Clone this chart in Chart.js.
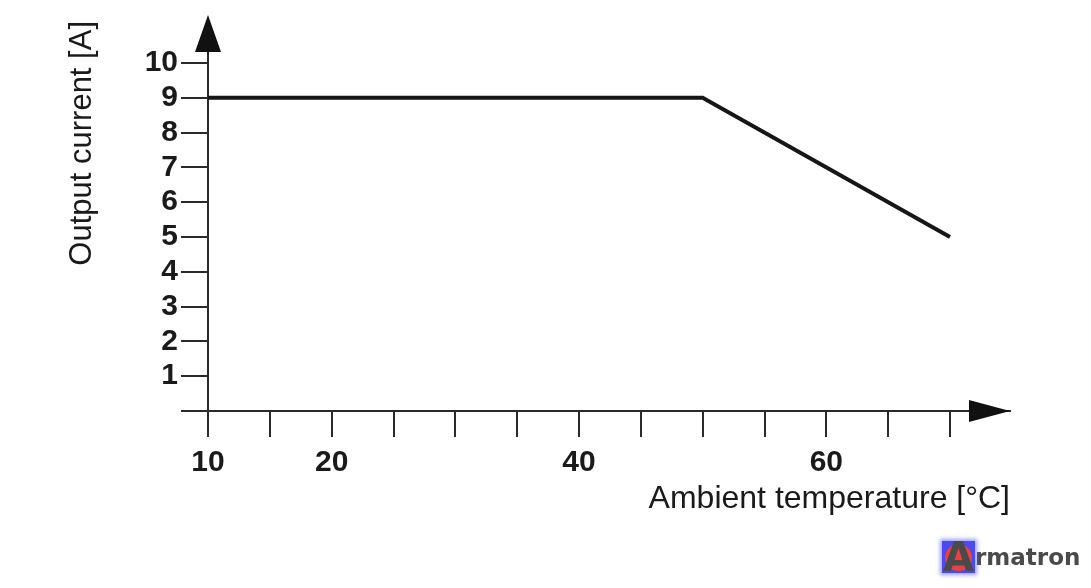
<!DOCTYPE html>
<html>
<head>
<meta charset="utf-8">
<script src="https://cdn.jsdelivr.net/npm/chart.js@4"></script>
<style>
  html, body { margin: 0; padding: 0; background: #fff; }
  #wrap { position: relative; width: 1091px; height: 588px; }
  #wrap canvas { position: absolute; left: 0; top: 0; }
  #wm { position: absolute; left: 942px; top: 541px; height: 32px; display: flex; align-items: center;
        font-family: "DejaVu Sans", sans-serif; font-weight: bold; font-size: 23px; color: #4a4a4a; }
  #wm .logo { position: relative; width: 33px; height: 32px; background: #4a4af0; box-shadow: 0 0 4px 2px rgba(90,90,255,0.6); overflow: visible; }
  #wm .logo .c { position: absolute; left: 3px; top: 3px; width: 27px; height: 27px; border-radius: 50%; background: #ec4040; }
  #wm .logo .a { position: absolute; left: -2px; top: -5px; width: 37px; text-align: center; font-size: 40px; color: #4a4a4a; line-height: 42px; }
</style>
</head>
<body>
<div id="wrap">
  <canvas id="c" width="1091" height="588"></canvas>
  <div id="wm"><div class="logo"><div class="c"></div><div class="a">A</div></div><span>rmatron</span></div>
</div>
<script>
// Data
const temperature = [10, 50, 70];
const current = [9, 9, 5];
// Axis ticks and labels
const xTickValues = [10, 15, 20, 25, 30, 35, 40, 45, 50, 55, 60, 65, 70];
const xLabelValues = [10, 20, 40, 60];
const yTickValues = [0, 1, 2, 3, 4, 5, 6, 7, 8, 9, 10];
const yLabelValues = [1, 2, 3, 4, 5, 6, 7, 8, 9, 10];
const xTitle = 'Ambient temperature [°C]';
const yTitle = 'Output current [A]';

const axisColor = '#2a2a2a';

const arrows = {
  id: 'arrows',
  afterDraw(chart) {
    const ctx = chart.ctx;
    const xs = chart.scales.x, ys = chart.scales.y;
    const ax = xs.getPixelForValue(10);
    const ay = ys.getPixelForValue(0);
    ctx.save();
    ctx.fillStyle = '#111';
    // up arrow
    ctx.beginPath();
    ctx.moveTo(ax, 15);
    ctx.lineTo(ax - 13, 52);
    ctx.lineTo(ax + 13, 52);
    ctx.closePath();
    ctx.fill();
    // right arrow
    ctx.beginPath();
    ctx.moveTo(1010, ay);
    ctx.lineTo(969, ay - 11);
    ctx.lineTo(969, ay + 11);
    ctx.closePath();
    ctx.fill();
    ctx.restore();
  }
};

new Chart(document.getElementById('c'), {
  type: 'line',
  data: {
    datasets: [{
      data: temperature.map((t, i) => ({ x: t, y: current[i] })),
      borderColor: '#161616',
      borderWidth: 4,
      pointRadius: 0,
      tension: 0,
      fill: false,
      clip: false,
      borderCapStyle: 'butt',
      borderJoinStyle: 'miter'
    }]
  },
  options: {
    responsive: false,
    animation: false,
    devicePixelRatio: 1,
    layout: { padding: { left: 0, right: 81, top: 21, bottom: 0 } },
    plugins: { legend: { display: false }, tooltip: { enabled: false } },
    scales: {
      x: {
        type: 'linear',
        min: 10,
        max: 10 + 60 * 802 / 742,
        afterBuildTicks: (axis) => { axis.ticks = xTickValues.map(v => ({ value: v })); },
        afterFit: (axis) => { axis.height = 177; },
        ticks: {
          autoSkip: false,
          maxRotation: 0,
          padding: 8,
          color: '#1a1a1a',
          font: { family: 'Liberation Sans, Arial, sans-serif', size: 30, weight: 'bold' },
          callback: (v) => xLabelValues.includes(v) ? String(v) : ''
        },
        grid: { display: true, drawOnChartArea: false, drawTicks: true, tickLength: 26, color: axisColor, lineWidth: 2 },
        border: { display: true, color: axisColor, width: 2 },
        title: {
          display: true, text: xTitle, align: 'end', color: '#1a1a1a',
          font: { family: 'Liberation Sans, Arial, sans-serif', size: 32, weight: 'normal' },
          padding: { top: 0, bottom: 70 }
        }
      },
      y: {
        type: 'linear',
        min: 0,
        max: 10 * 390 / 348,
        afterBuildTicks: (axis) => { axis.ticks = yTickValues.map(v => ({ value: v })); },
        afterFit: (axis) => { axis.width = 208; },
        ticks: {
          autoSkip: false,
          padding: 3,
          color: '#1a1a1a',
          font: { family: 'Liberation Sans, Arial, sans-serif', size: 30, weight: 'bold' },
          callback: (v) => yLabelValues.includes(v) ? String(v) : ''
        },
        grid: { display: true, drawOnChartArea: false, drawTicks: true, tickLength: 27, color: axisColor, lineWidth: 2 },
        border: { display: true, color: axisColor, width: 2 },
        title: {
          display: true, text: yTitle, align: 'end', color: '#1a1a1a',
          font: { family: 'Liberation Sans, Arial, sans-serif', size: 31, weight: 'normal' },
          padding: { top: 64, bottom: 0 }
        }
      }
    }
  },
  plugins: [arrows]
});
</script>
</body>
</html>
